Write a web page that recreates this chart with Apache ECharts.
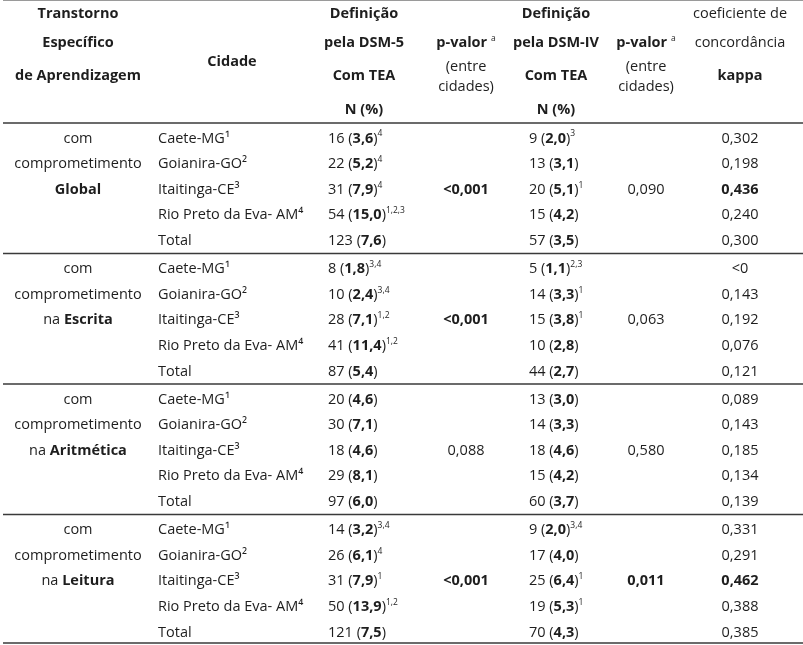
<!DOCTYPE html>
<html>
<head>
<meta charset="utf-8">
<script src="https://cdn.jsdelivr.net/npm/echarts@6/dist/echarts.min.js"></script>
<style>html,body{margin:0;padding:0;background:#fff}#c{width:803px;height:645px}</style>
</head>
<body>
<div id="c"></div>
<script>
// ---------- data ----------
const cities = ['Caete-MG¹', 'Goianira-GO²', 'Itaitinga-CE³', 'Rio Preto da Eva- AM⁴', 'Total'];
const groupNames = ['Global', 'Escrita', 'Aritmética', 'Leitura'];
const groupPrefix = ['', 'na ', 'na ', 'na '];

const dsm5N = [[16, 22, 31, 54, 123], [8, 10, 28, 41, 87], [20, 30, 18, 29, 97], [14, 26, 31, 50, 121]];
const dsm5Pct = [[3.6, 5.2, 7.9, 15.0, 7.6], [1.8, 2.4, 7.1, 11.4, 5.4], [4.6, 7.1, 4.6, 8.1, 6.0], [3.2, 6.1, 7.9, 13.9, 7.5]];
const dsm5Sup = [['4', '4', '4', '1,2,3', ''], ['3,4', '3,4', '1,2', '1,2', ''], ['', '', '', '', ''], ['3,4', '4', '1', '1,2', '']];
const pDsm5 = ['<0,001', '<0,001', '0,088', '<0,001'];
const pDsm5Bold = [true, true, false, true];

const dsm4N = [[9, 13, 20, 15, 57], [5, 14, 15, 10, 44], [13, 14, 18, 15, 60], [9, 17, 25, 19, 70]];
const dsm4Pct = [[2.0, 3.1, 5.1, 4.2, 3.5], [1.1, 3.3, 3.8, 2.8, 2.7], [3.0, 3.3, 4.6, 4.2, 3.7], [2.0, 4.0, 6.4, 5.3, 4.3]];
const dsm4Sup = [['3', '', '1', '', ''], ['2,3', '1', '1', '', ''], ['', '', '', '', ''], ['3,4', '', '1', '1', '']];
const pDsm4 = ['0,090', '0,063', '0,580', '0,011'];
const pDsm4Bold = [false, false, false, true];

const kappa = [[0.302, 0.198, 0.436, 0.240, 0.300], ['<0', 0.143, 0.192, 0.076, 0.121], [0.089, 0.143, 0.185, 0.134, 0.139], [0.331, 0.291, 0.462, 0.388, 0.385]];
const kappaBold = [[false, false, true, false, false], [false, false, false, false, false], [false, false, false, false, false], [false, false, true, false, false]];

// ---------- layout ----------
const FONT = '"Open Sans", "Noto Sans", sans-serif';
const FS = 14.5;
const COLOR = '#1e1e1e';
const colX = [78, 158, 328, 466, 529, 646, 740];   // anchors
const colHeadX = [78, 232, 364, 466, 556, 646, 740];
const headY = [14, 43, 76, 110];
const firstRowY = 138.5, rowH = 25.6, groupH = 130.5, firstLineY = 123;

const fmt1 = v => v.toFixed(1).replace('.', ',');
const fmt3 = v => typeof v === 'number' ? v.toFixed(3).replace('.', ',') : v;
const nPct = (n, p, s) => '{r|' + n + ' (}{b|' + fmt1(p) + '}{r|)}' + (s ? '{s|' + s + '}' : '');

// ---------- cells ----------
const cells = [];
function cell(x, y, text, align) { cells.push({ value: [x, y], text: text, align: align || 'center' }); }

// header
cell(colHeadX[0], headY[0], '{b|Transtorno}');
cell(colHeadX[0], headY[1], '{b|Específico}');
cell(colHeadX[0], headY[2], '{b|de Aprendizagem}');
cell(colHeadX[1], 62, '{b|Cidade}');
[[2, 'pela DSM-5'], [4, 'pela DSM-IV']].forEach(([c, t]) => {
  cell(colHeadX[c], headY[0], '{b|Definição}');
  cell(colHeadX[c], headY[1], '{b|' + t + '}');
  cell(colHeadX[c], headY[2], '{b|Com TEA}');
  cell(colHeadX[c], headY[3], '{b|N (%)}');
});
[3, 5].forEach(c => {
  cell(colHeadX[c], headY[1], '{b|p-valor }{s|a}');
  cell(colHeadX[c], 67, '{r|(entre}');
  cell(colHeadX[c], 87, '{r|cidades)}');
});
cell(colHeadX[6], headY[0], '{r|coeficiente de}');
cell(colHeadX[6], headY[1], '{r|concordância}');
cell(colHeadX[6], headY[2], '{b|kappa}');

// body
const lineYs = [0.5];
groupNames.forEach((g, gi) => {
  const y0 = firstRowY + gi * groupH;
  const rowY = i => y0 + i * rowH;
  cell(colX[0], rowY(0), '{r|com}');
  cell(colX[0], rowY(1), '{r|comprometimento}');
  cell(colX[0], rowY(2), (groupPrefix[gi] ? '{r|' + groupPrefix[gi] + '}' : '') + '{b|' + g + '}');
  cities.forEach((c, i) => {
    cell(colX[1], rowY(i), '{r|' + c + '}', 'left');
    cell(colX[2], rowY(i), nPct(dsm5N[gi][i], dsm5Pct[gi][i], dsm5Sup[gi][i]), 'left');
    cell(colX[4], rowY(i), nPct(dsm4N[gi][i], dsm4Pct[gi][i], dsm4Sup[gi][i]), 'left');
    cell(colX[6], rowY(i), (kappaBold[gi][i] ? '{b|' : '{r|') + fmt3(kappa[gi][i]) + '}');
  });
  cell(colX[3], rowY(2), (pDsm5Bold[gi] ? '{b|' : '{r|') + pDsm5[gi] + '}');
  cell(colX[5], rowY(2), (pDsm4Bold[gi] ? '{b|' : '{r|') + pDsm4[gi] + '}');
  lineYs.push(firstLineY + gi * groupH);
});
lineYs.push(firstLineY + groupNames.length * groupH - 2);

const rich = {
  r: { fontSize: FS, fontFamily: FONT, fill: COLOR, lineHeight: 18 },
  b: { fontSize: FS, fontFamily: FONT, fontWeight: 'bold', fill: COLOR, lineHeight: 18 },
  s: { fontSize: 8.5, fontFamily: FONT, fill: COLOR, lineHeight: 11, verticalAlign: 'top' }
};

const chart = echarts.init(document.getElementById('c'), null, { renderer: 'canvas' });
chart.setOption({
  animation: false,
  backgroundColor: '#fff',
  grid: { left: 0, right: 0, top: 0, bottom: 0 },
  xAxis: { type: 'value', min: 0, max: 803, show: false },
  yAxis: { type: 'value', min: 0, max: 645, inverse: true, show: false },
  series: [
    {
      type: 'custom',
      data: lineYs.map(v => [0, v]),
      renderItem: (params, api) => {
        const idx = params.dataIndex;
        const p0 = api.coord([3, api.value(1)]);
        const p1 = api.coord([803, api.value(1)]);
        const top = idx === 0;
        return {
          type: 'line',
          shape: { x1: p0[0], y1: p0[1], x2: p1[0], y2: p1[1] },
          style: { stroke: top ? '#9a9a9a' : '#3a3a3a', lineWidth: top ? 1 : 1.6 }
        };
      }
    },
    {
      type: 'custom',
      data: cells,
      renderItem: (params, api) => {
        const d = cells[params.dataIndex];
        const p = api.coord(d.value);
        return {
          type: 'text',
          style: {
            x: p[0], y: p[1], text: d.text, rich: rich,
            align: d.align, verticalAlign: 'middle',
            fontSize: FS, fontFamily: FONT, fill: COLOR
          }
        };
      }
    }
  ]
});
</script>
</body>
</html>
